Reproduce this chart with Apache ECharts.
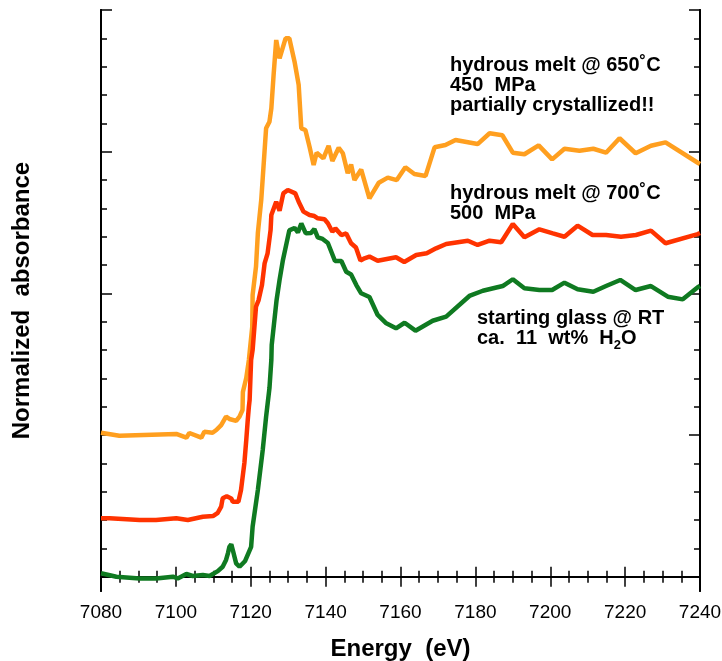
<!DOCTYPE html>
<html>
<head>
<meta charset="utf-8">
<script src="https://cdn.jsdelivr.net/npm/echarts@6/dist/echarts.min.js"></script>
<style>
  html, body { margin: 0; padding: 0; background: #fff; }
  #chart { width: 722px; height: 661px; }
</style>
</head>
<body>
<div id="chart"></div>
<script>
// energy (eV) / normalized absorbance, curves stacked with offsets
var melt650 = [
  [7080, 1.017], [7084.9, 0.996], [7100.1, 1.008], [7100.4, 1.017], [7102.8, 0.982], [7103.6, 1.015],
  [7106.8, 0.982], [7107.6, 1.024], [7109.8, 1.017], [7110.8, 1.036], [7112.1, 1.071], [7113.4, 1.130],
  [7114.3, 1.114], [7116.1, 1.100], [7117.0, 1.130], [7117.8, 1.177], [7117.9, 1.304], [7118.8, 1.403],
  [7119.5, 1.530], [7120.4, 1.765], [7120.5, 1.989], [7121.0, 2.001], [7121.4, 2.188], [7121.9, 2.426],
  [7122.8, 2.659], [7123.2, 2.814], [7124.1, 3.165], [7125.0, 3.212], [7125.5, 3.306], [7126.1, 3.541],
  [7126.8, 3.788], [7127.7, 3.659], [7129.3, 3.800], [7130.3, 3.800], [7131.7, 3.635], [7132.8, 3.471],
  [7133.5, 3.165], [7134.6, 3.153], [7135.7, 3.035], [7136.8, 2.906], [7137.6, 2.993], [7139.4, 2.953],
  [7140.8, 3.042], [7141.8, 2.934], [7143.5, 3.028], [7144.6, 2.989], [7145.9, 2.848], [7146.8, 2.910],
  [7147.7, 2.800], [7149.5, 2.874], [7151.7, 2.671], [7154.2, 2.781], [7156.6, 2.817], [7159.0, 2.800],
  [7161.3, 2.890], [7163.7, 2.843], [7166.7, 2.829], [7169.1, 3.031], [7172.0, 3.047], [7174.7, 3.083],
  [7180.6, 3.054], [7183.8, 3.130], [7187.2, 3.116], [7190.0, 2.993], [7193.1, 2.982], [7196.9, 3.045],
  [7200.5, 2.946], [7203.8, 3.021], [7207.8, 3.007], [7211.5, 3.021], [7214.9, 2.993], [7218.5, 3.095],
  [7222.8, 2.989], [7226.9, 3.042], [7230.8, 3.066], [7239.4, 2.922], [7240, 2.913]
];
var melt700 = [
  [7080, 0.413], [7082.3, 0.413], [7090.3, 0.401], [7094.7, 0.401], [7100.1, 0.413], [7103.2, 0.401],
  [7103.6, 0.413], [7107.2, 0.424], [7109.9, 0.429], [7111.2, 0.452], [7112.1, 0.495], [7112.5, 0.554],
  [7113.6, 0.568], [7114.8, 0.553], [7115.2, 0.530], [7116.7, 0.530], [7117.4, 0.613], [7118.3, 0.803],
  [7118.8, 0.965], [7119.2, 1.107], [7119.5, 1.200], [7119.7, 1.248], [7120.1, 1.530], [7120.5, 1.601],
  [7121.4, 1.906], [7122.1, 1.953], [7123.0, 2.059], [7123.7, 2.212], [7124.5, 2.283], [7125.3, 2.447],
  [7125.5, 2.553], [7126.8, 2.647], [7127.7, 2.584], [7128.7, 2.706], [7129.9, 2.730], [7131.9, 2.706],
  [7132.8, 2.647], [7134.1, 2.577], [7135.7, 2.553], [7137.0, 2.546], [7137.9, 2.530], [7139.7, 2.523],
  [7140.6, 2.495], [7141.8, 2.435], [7142.6, 2.459], [7144.2, 2.412], [7145.5, 2.423], [7146.8, 2.354],
  [7148.1, 2.324], [7149.3, 2.232], [7150.4, 2.248], [7151.7, 2.260], [7153.9, 2.231], [7158.8, 2.255],
  [7161.0, 2.222], [7164.2, 2.271], [7167.0, 2.283], [7169.5, 2.318], [7172.2, 2.349], [7178.0, 2.372],
  [7180.6, 2.342], [7183.8, 2.372], [7186.9, 2.361], [7190.0, 2.490], [7193.1, 2.396], [7197.1, 2.452],
  [7200.7, 2.424], [7203.8, 2.400], [7207.3, 2.478], [7211.3, 2.412], [7214.9, 2.412], [7218.9, 2.400],
  [7222.9, 2.412], [7226.9, 2.443], [7230.8, 2.354], [7239.4, 2.419], [7240, 2.426]
];
var glassRT = [
  [7080, 0.025], [7084.1, 0.001], [7090.3, -0.011], [7094.7, -0.011], [7099.2, 0.001], [7100.5, -0.011],
  [7102.8, 0.020], [7104.5, 0.006], [7107.2, 0.013], [7109.0, 0.006], [7111.2, 0.040], [7112.5, 0.071],
  [7113.4, 0.119], [7113.9, 0.166], [7114.3, 0.212], [7114.8, 0.230], [7115.2, 0.189], [7116.1, 0.095],
  [7117.0, 0.071], [7118.5, 0.112], [7119.5, 0.175], [7120.1, 0.212], [7120.5, 0.354], [7120.7, 0.366],
  [7121.9, 0.613], [7122.1, 0.613], [7123.2, 0.895], [7124.1, 1.130], [7125.0, 1.332], [7125.5, 1.530],
  [7125.6, 1.636], [7126.9, 1.953], [7127.7, 2.095], [7128.6, 2.236], [7130.3, 2.445], [7131.7, 2.462],
  [7132.6, 2.430], [7133.5, 2.493], [7134.7, 2.424], [7136.1, 2.426], [7137.0, 2.454], [7137.9, 2.396],
  [7139.2, 2.384], [7140.6, 2.356], [7142.5, 2.229], [7144.2, 2.229], [7145.5, 2.153], [7146.8, 2.133],
  [7148.2, 2.059], [7149.5, 2.001], [7151.7, 1.975], [7153.9, 1.848], [7156.2, 1.789], [7158.8, 1.754],
  [7161.1, 1.793], [7164.0, 1.737], [7168.6, 1.807], [7172.2, 1.836], [7178.4, 1.982], [7182.0, 2.019],
  [7187.3, 2.052], [7190.0, 2.100], [7193.1, 2.036], [7197.1, 2.024], [7200.5, 2.024], [7203.8, 2.076],
  [7207.3, 2.029], [7211.5, 2.012], [7214.9, 2.052], [7218.7, 2.095], [7222.8, 2.024], [7226.9, 2.052],
  [7231.4, 1.977], [7235.4, 1.958], [7239.4, 2.043], [7240, 2.052]
];
var yMinorTicks = [0, 0.2, 0.4, 0.6, 0.8, 1, 1.2, 1.4, 1.6, 1.8, 2, 2.2, 2.4, 2.6, 2.8, 3, 3.2, 3.4, 3.6, 3.8, 4];
var yMajorTicks = [0, 1, 2, 3, 4];

var chart = echarts.init(document.getElementById('chart'));

var font = 'Liberation Sans, Arial, Helvetica, sans-serif';

function xAxisCfg(pos) {
  return {
    type: 'value',
    position: pos,
    min: 7080,
    max: 7240,
    interval: 20,
    axisLine: { show: true, lineStyle: { color: '#000', width: 2 } },
    axisTick: { show: true, inside: true, length: 10, lineStyle: { color: '#000', width: 1.5 } },
    minorTick: { show: true, splitNumber: 4, length: 6, lineStyle: { color: '#000', width: 1.5 } },
    splitLine: { show: false },
    minorSplitLine: { show: false },
    axisLabel: {
      show: pos === 'bottom',
      color: '#000',
      fontFamily: font,
      fontSize: 19,
      margin: 12,
      formatter: function (v) { return String(v); }
    },
    name: pos === 'bottom' ? 'Energy  (eV)' : '',
    nameLocation: 'middle',
    nameGap: 46,
    nameTextStyle: { color: '#000', fontFamily: font, fontSize: 24, fontWeight: 'bold' }
  };
}

function yAxisCfg(pos, ticks, len, withName) {
  return {
    type: 'value',
    position: pos,
    min: -0.1,
    max: 4,
    axisLine: { show: true, lineStyle: { color: '#000', width: 2 } },
    axisTick: { show: true, inside: true, length: len, customValues: ticks, lineStyle: { color: '#000', width: 1.5 } },
    axisLabel: { show: false },
    splitLine: { show: false },
    name: withName ? 'Normalized  absorbance' : '',
    nameLocation: 'middle',
    nameRotate: 90,
    nameGap: 67,
    nameTextStyle: { color: '#000', fontFamily: font, fontSize: 24, fontWeight: 'bold' }
  };
}

var textStyle = { fontFamily: font, fontSize: 20, fontWeight: 'bold', fill: '#000', lineHeight: 20 };

var option = {
  animation: false,
  backgroundColor: '#fff',
  grid: { left: 101, right: 22, top: 10, bottom: 70, containLabel: false, outerBoundsMode: 'none' },
  xAxis: [xAxisCfg('bottom'), xAxisCfg('top')],
  yAxis: [
    yAxisCfg('left', yMinorTicks, 6, true),
    yAxisCfg('left', yMajorTicks, 11, false),
    yAxisCfg('right', yMinorTicks, 6, false),
    yAxisCfg('right', yMajorTicks, 11, false)
  ],
  series: [
    {
      name: 'hydrous melt @ 650˚C',
      type: 'line',
      data: melt650,
      showSymbol: false,
      lineStyle: { color: '#ff9f1f', width: 4.5 },
      z: 3
    },
    {
      name: 'hydrous melt @ 700˚C',
      type: 'line',
      data: melt700,
      showSymbol: false,
      lineStyle: { color: '#ff3300', width: 4.5 },
      z: 3
    },
    {
      name: 'starting glass @ RT',
      type: 'line',
      data: glassRT,
      showSymbol: false,
      lineStyle: { color: '#0f7a21', width: 4.5 },
      z: 3
    }
  ],
  graphic: [
    {
      type: 'text', left: 450, top: 55,
      style: Object.assign({ text: 'hydrous melt @ 650˚C\n450  MPa\npartially crystallized!!' }, textStyle)
    },
    {
      type: 'text', left: 450, top: 183,
      style: Object.assign({ text: 'hydrous melt @ 700˚C\n500  MPa' }, textStyle)
    },
    {
      type: 'text', left: 477, top: 308,
      style: Object.assign({
        text: 'starting glass @ RT\nca.  11  wt%  H{sub|2}O',
        rich: {
          sub: { fontFamily: font, fontSize: 13, fontWeight: 'bold', fill: '#000', padding: [14, 0, 0, 0], lineHeight: 20 }
        }
      }, textStyle)
    }
  ]
};

chart.setOption(option);
</script>
</body>
</html>
